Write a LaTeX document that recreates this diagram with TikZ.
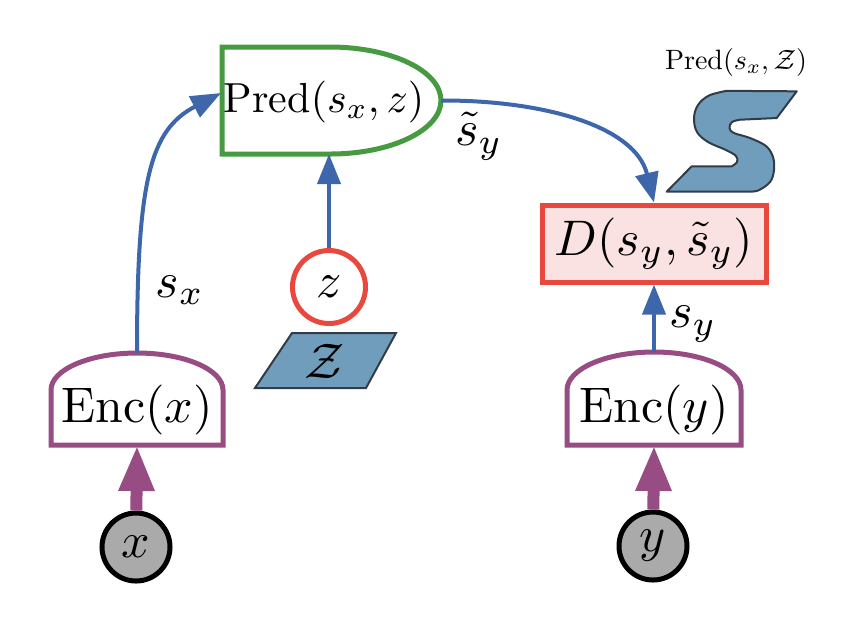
\documentclass[tikz,border=0pt]{standalone}
\usetikzlibrary{arrows.meta}
\definecolor{pgreen}{RGB}{70,155,65}
\definecolor{ppurple}{RGB}{152,76,132}
\definecolor{pblue}{RGB}{62,102,170}
\definecolor{pred}{RGB}{232,72,62}
\definecolor{ppink}{RGB}{251,226,226}
\definecolor{psteel}{RGB}{112,157,188}
\definecolor{pedge}{RGB}{50,60,70}
\definecolor{pgray}{RGB}{170,170,170}
\begin{document}
\begin{tikzpicture}[x=0.2pt,y=-0.2pt,
  bluearrow/.style={draw=pblue,line width=0.8pt,-{Triangle[length=6pt,width=4.6pt]}},
  purplearrow/.style={draw=ppurple,line width=2.4pt,-{Triangle[length=9.2pt,width=6.6pt]}},
  obsnode/.style={circle,draw=black,line width=1pt,fill=pgray,minimum size=13.6pt,inner sep=0pt},
  lbl/.style={inner sep=0pt}]
\useasboundingbox (0,0) rectangle (854,618);
% Pred shape
\draw[pgreen,line width=1pt,fill=white] (222,47) -- (330,47) arc[start angle=-90,end angle=90,x radius=111,y radius=53.5] -- (222,154) -- cycle;
\node[lbl] (predtxt) at (324,102) {\scalebox{0.84}{Pred$(s_x,z)$}};
\coordinate (predW) at (221,93);
\coordinate (predE) at (441,100.5);
\coordinate (predS) at (329,154);
% Enc(x)
\draw[ppurple,line width=1pt,fill=white] (51,445) -- (51,390) arc[start angle=180,end angle=360,x radius=86,y radius=37] -- (223,445) -- cycle;
\node[lbl] (encxtxt) at (137,410) {Enc$(x)$};
\coordinate (encxT) at (137,353);
\coordinate (encxB) at (137,445);
% Enc(y)
\draw[ppurple,line width=1pt,fill=white] (567,445) -- (567,390) arc[start angle=180,end angle=360,x radius=87,y radius=38] -- (741,445) -- cycle;
\node[lbl] (encytxt) at (654,410) {Enc$(y)$};
\coordinate (encyT) at (654,352);
\coordinate (encyB) at (654,445);
% observed nodes
\node[obsnode] (x) at (136,547) {$x$};
\node[obsnode] (y) at (653,546) {$y$};
% D box
\node[draw=pred,fill=ppink,line width=1pt,minimum width=44.8pt,minimum height=15.4pt,inner sep=0pt] (D) at (654,243.5) {$D(s_y,\tilde{s}_y)$};
% z circle
\node[circle,draw=pred,line width=1pt,fill=white,minimum size=14.6pt,inner sep=0pt] (z) at (329,287) {$z$};
% Z parallelogram
\draw[pedge,line width=0.4pt,fill=psteel] (292,333) -- (396,333) -- (366,388) -- (255,388) -- cycle;
\node[lbl] (Zset) at (325,361) {$\mathcal{Z}$};
% S shape
\draw[pedge,line width=0.4pt,fill=psteel,line join=round]
  (796.7,91.3) -- (776.7,118) -- (740,119.7)
  -- plot[smooth,tension=0.6] coordinates {(740,119.7) (732,122) (729.5,128) (734,133) (750,138) (766,146) (773,157) (774,170) (770,182) (758,190.5) (748,191.5)}
  -- (666.7,191.7) -- (691.7,166.3) -- (731.7,166.3)
  -- plot[smooth,tension=0.6] coordinates {(731.7,166.3) (737,162) (736,156) (726,150) (708,142) (697,132) (694,118) (698,105) (709,95.5) (726.7,90.8)}
  -- cycle;
\node[lbl] (Splabel) at (736,62) {\scalebox{0.56}{Pred$(s_x,\mathcal{Z})$}};
% connectors
\draw[purplearrow] (x) -- (encxB);
\draw[purplearrow] (y) -- (encyB);
\draw[bluearrow] (encyT) -- (D.south);
\draw[bluearrow] (z) -- (predS);
\draw[bluearrow] (encxT) .. controls (137,180) and (150,130) .. (predW);
\draw[bluearrow] (predE) .. controls (540,100) and (635,125) .. (D.north);
% labels
\node[lbl] (sx) at (180,290) {$s_x$};
\node[lbl] (sy) at (693,324) {$s_y$};
\node[lbl] (sty) at (479,136) {$\tilde{s}_y$};
\end{tikzpicture}
\end{document}
